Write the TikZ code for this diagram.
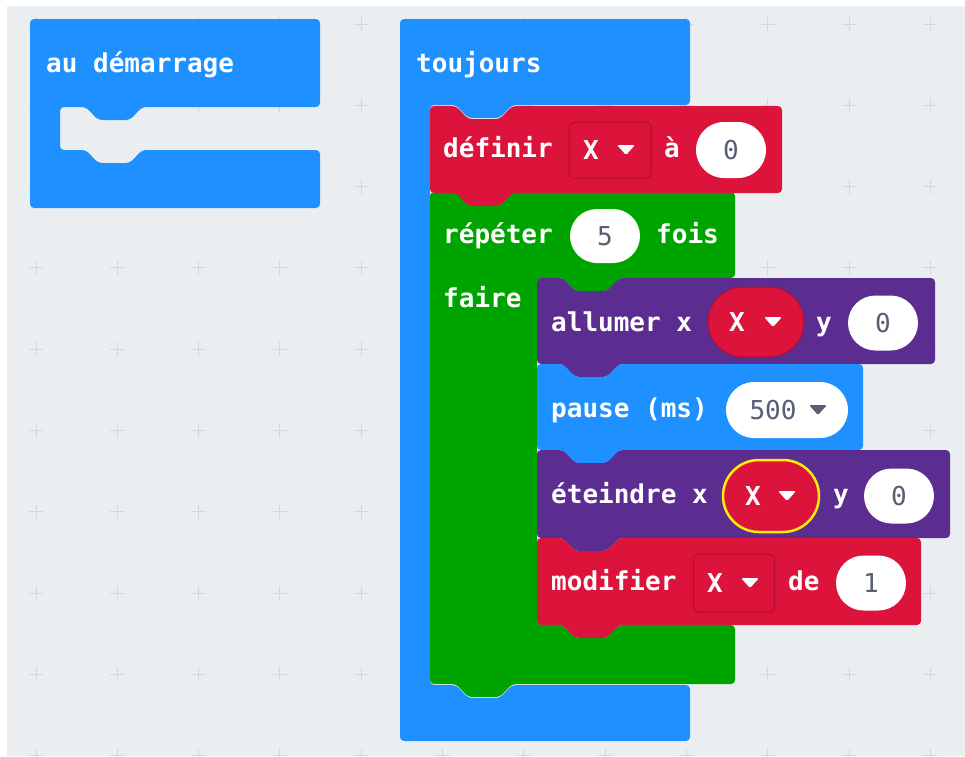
\documentclass[tikz,border=0pt]{standalone}
\usepackage{fontspec}
\newfontfamily\blockfont{DejaVu Sans Mono}
\usetikzlibrary{shapes.misc}

\definecolor{workspace}{HTML}{EBEEF0}
\definecolor{gridmark}{HTML}{D3D7DB}
\definecolor{basicblue}{HTML}{1E90FF}
\definecolor{varred}{HTML}{DC143C}
\definecolor{varedge}{HTML}{B00E30}
\definecolor{loopgreen}{HTML}{00A400}
\definecolor{ledpurple}{HTML}{5C2D91}
\definecolor{numgray}{HTML}{575E75}
\definecolor{focusyellow}{HTML}{FFEE00}

% statement block: fill, left, top, right, bottom
\newcommand{\stackblock}[5]{%
  \fill[#1, rounded corners=4pt] (#2,#5) -- (#2,#3) -- ({#2+26},#3) -- ({#2+38},{#3+13})
    -- ({#2+70},{#3+13}) -- ({#2+82},#3) -- (#4,#3) -- (#4,#5) -- ({#2+82},#5)
    -- ({#2+70},{#5+13}) -- ({#2+38},{#5+13}) -- ({#2+26},#5) -- cycle;}

% event block with mouth: fill, left, top, right, mouth top, mouth left, mouth bottom, bottom
\newcommand{\eventblock}[8]{%
  \fill[#1, rounded corners=4pt] (#2,#8) -- (#2,#3) -- (#4,#3) -- (#4,#5)
    -- ({#6+82},#5) -- ({#6+70},{#5+13}) -- ({#6+38},{#5+13}) -- ({#6+26},#5) -- (#6,#5)
    -- (#6,#7) -- ({#6+26},#7) -- ({#6+38},{#7+13}) -- ({#6+70},{#7+13}) -- ({#6+82},#7)
    -- (#4,#7) -- (#4,#8) -- cycle;}

% loop block: same as above, with notch on top and tab below
\newcommand{\loopblock}[8]{%
  \fill[#1, rounded corners=4pt] (#2,#8) -- (#2,#3) -- ({#2+26},#3) -- ({#2+38},{#3+13})
    -- ({#2+70},{#3+13}) -- ({#2+82},#3) -- (#4,#3) -- (#4,#5)
    -- ({#6+82},#5) -- ({#6+70},{#5+13}) -- ({#6+38},{#5+13}) -- ({#6+26},#5) -- (#6,#5)
    -- (#6,#7) -- ({#6+26},#7) -- ({#6+38},{#7+13}) -- ({#6+70},{#7+13}) -- ({#6+82},#7)
    -- (#4,#7) -- (#4,#8) -- ({#2+82},#8) -- ({#2+70},{#8+13}) -- ({#2+38},{#8+13})
    -- ({#2+26},#8) -- cycle;}

\tikzset{
  lbl/.style={font={\blockfont\bfseries\fontsize{26}{30}\selectfont}, text=white,
              anchor=base west, inner sep=0pt},
  pill/.style={rounded rectangle, fill=white, inner sep=0pt,
               font={\blockfont\fontsize{26}{30}\selectfont}, text=numgray},
  dropbox/.style={rectangle, rounded corners=5pt, fill=varred, draw=varedge, line width=1pt,
                  inner sep=0pt, text=white, font={\blockfont\bfseries\fontsize{26}{30}\selectfont}},
  varoval/.style={rounded rectangle, fill=varred, draw=varedge, line width=1pt,
                  inner sep=0pt, text=white, font={\blockfont\bfseries\fontsize{26}{30}\selectfont}},
  caret/.pic={\fill[rounded corners=1.5pt] (-9,-5) -- (9,-5) -- (0,5) -- cycle;}
}

\begin{document}
\begin{tikzpicture}[x=1pt, y=-1pt]
\useasboundingbox (0,0) rectangle (965,756);

% workspace and grid
\fill[white] (0,0) rectangle (965,756);
\fill[workspace] (7,6) rectangle (965,756);
\foreach \i in {0,...,11}
  \foreach \j in {0,...,9}
    \draw[gridmark, line width=1pt] ({29+81.3*\i},{24+81.3*\j}) -- ++(14,0)
      ({36+81.3*\i},{17+81.3*\j}) -- ++(0,14);

% au demarrage
\eventblock{basicblue}{30}{19}{320}{107}{60}{150}{208}
\node[lbl] (start) at (46,72) {au démarrage};

% toujours
\eventblock{basicblue}{400}{19}{690}{105}{430}{685}{741}
\node[lbl] (forever) at (416,72) {toujours};

% repeter 5 fois
\loopblock{loopgreen}{430}{192}{735}{278}{537}{625}{684}
\node[lbl] (repeat) at (443,243) {répéter};
\node[pill, minimum width=70pt, minimum height=54pt] (times) at (605,236) {5};
\node[lbl] (fois) at (656,243) {fois};
\node[lbl] (faire) at (443,307) {faire};

% definir X a 0
\stackblock{varred}{430}{106}{782}{193}
\node[lbl] (setvar) at (443,157) {définir};
\node[dropbox, minimum width=82pt, minimum height=56pt] (setname) at (610,150) {X\kern38pt};
\pic[white] at (626,150) {caret};
\node[lbl] (to) at (664,157) {à};
\node[pill, minimum width=70pt, minimum height=56pt] (setval) at (731,150) {0};

% allumer x X y 0
\stackblock{ledpurple}{537}{278}{935}{364}
\node[lbl] (plot) at (551,331) {allumer x};
\node[varoval, minimum width=96pt, minimum height=70pt] (plotx) at (756,322) {X\kern38pt};
\pic[white] at (773,322) {caret};
\node[lbl] (ploty) at (816,331) {y};
\node[pill, minimum width=70pt, minimum height=55pt] (plotyval) at (883,323) {0};

% pause (ms) 500
\stackblock{basicblue}{537}{364}{863}{450}
\node[lbl] (pause) at (551,417) {pause (ms)};
\node[pill, minimum width=122pt, minimum height=56pt] (delay) at (787,410) {500\kern28pt};
\pic[numgray] at (818,410) {caret};

% eteindre x X y 0
\stackblock{ledpurple}{537}{450}{950}{538}
\node[lbl] (unplot) at (551,503) {éteindre x};
\node[varoval, draw=focusyellow, line width=2.5pt, minimum width=96pt, minimum height=72pt] (unplotx) at (771,496) {X\kern36pt};
\pic[white] at (787,496) {caret};
\node[lbl] (unploty) at (833,503) {y};
\node[pill, minimum width=70pt, minimum height=55pt] (unplotyval) at (899,496) {0};

% modifier X de 1
\stackblock{varred}{537}{538}{921}{625}
\node[lbl] (change) at (551,590) {modifier};
\node[dropbox, minimum width=81pt, minimum height=58pt] (changename) at (734,583) {X\kern38pt};
\pic[white] at (750,583) {caret};
\node[lbl] (by) at (788,590) {de};
\node[pill, minimum width=70pt, minimum height=55pt] (changeval) at (871,583) {1};
\end{tikzpicture}
\end{document}
